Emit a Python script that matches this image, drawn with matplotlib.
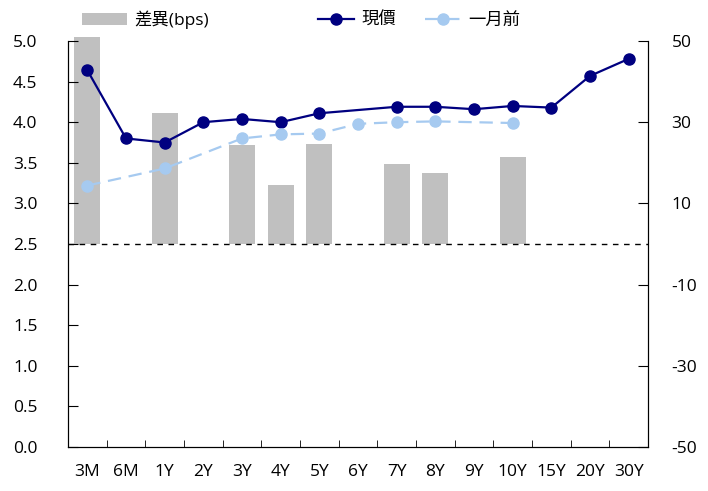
import numpy as np
import matplotlib.pyplot as plt

plt.rcParams['font.family'] = ['Open Sans', 'Noto Sans CJK TC', 'DejaVu Sans']

tenors = ['3M', '6M', '1Y', '2Y', '3Y', '4Y', '5Y', '6Y', '7Y', '8Y', '9Y', '10Y', '15Y', '20Y', '30Y']
current = [4.64, 3.80, 3.75, 4.00, 4.04, 4.00, 4.11, None, 4.19, 4.19, 4.16, 4.20, 4.18, 4.57, 4.78]
month_ago = [3.22, None, 3.43, None, 3.80, 3.85, 3.86, 3.98, 4.00, 4.01, None, 3.99, None, None, None]
diff_bps = [51, None, 32.3, None, 24.4, 14.5, 24.6, None, 19.7, 17.5, None, 21.4, None, None, None]
left_ticks = np.arange(0, 5.01, 0.5)
right_ticks = [-50, -30, -10, 10, 30, 50]


def valid(vals):
    idx = [i for i, v in enumerate(vals) if v is not None]
    return np.array(idx), np.array([vals[i] for i in idx])


fig = plt.figure(figsize=(7.08, 4.91), dpi=100)
ax = fig.add_axes([68 / 708, 1 - 447 / 491, 580 / 708, 406 / 491])
ax2 = ax.twinx()

bx, by = valid(diff_bps)
bars = ax2.bar(bx, by, width=0.67, color='#c0c0c0', clip_on=False)
ax2.axhline(0, color='black', ls=(0, (4, 4)), lw=1)

cx, cy = valid(current)
mx, my = valid(month_ago)
l1, = ax.plot(cx, cy, color='#000080', lw=1.6, marker='o', ms=8)
l2, = ax.plot(mx, my, color='#a6caf0', lw=1.6, ls=(0, (6, 3.5)), marker='o', ms=8)

ax.set_zorder(ax2.get_zorder() + 1)
ax.patch.set_visible(False)

ax.set_xlim(-0.5, len(tenors) - 0.5)
ax.set_ylim(0, 5)
ax2.set_ylim(-50, 50)
ax.set_yticks(left_ticks)
ax.set_yticklabels([f'{v:.1f}' for v in left_ticks])
ax2.set_yticks(right_ticks)
ax2.set_yticklabels([str(v) for v in right_ticks])
ax.set_xticks(range(len(tenors)))
ax.set_xticklabels(tenors)
ax.set_xticks(np.arange(-0.5, len(tenors)), minor=True)

fs = 12.5
ax.tick_params(axis='x', which='major', length=0, pad=12, labelsize=fs)
ax.tick_params(axis='x', which='minor', direction='in', length=5)
ax.tick_params(axis='y', direction='in', length=7, labelsize=fs, pad=22)
ax2.tick_params(axis='y', direction='in', length=7, labelsize=fs, pad=17)
for a in (ax, ax2):
    a.spines['top'].set_visible(False)

# legend entries placed one by one along the top, bottoms aligned
entries = [(bars.patches[0], '差異(bps)', 82, 2.6),
           (l1, '現價', 318, 2.1),
           (l2, '一月前', 425, 2.1)]
for handle, text, x0, hl in entries:
    fig.legend([handle], [text], loc='lower left', bbox_to_anchor=(x0 / 708, 1 - 29 / 491),
               frameon=False, fontsize=fs, handlelength=hl, handletextpad=0.4,
               borderpad=0, borderaxespad=0)

fig.savefig('out.png', dpi=100)
